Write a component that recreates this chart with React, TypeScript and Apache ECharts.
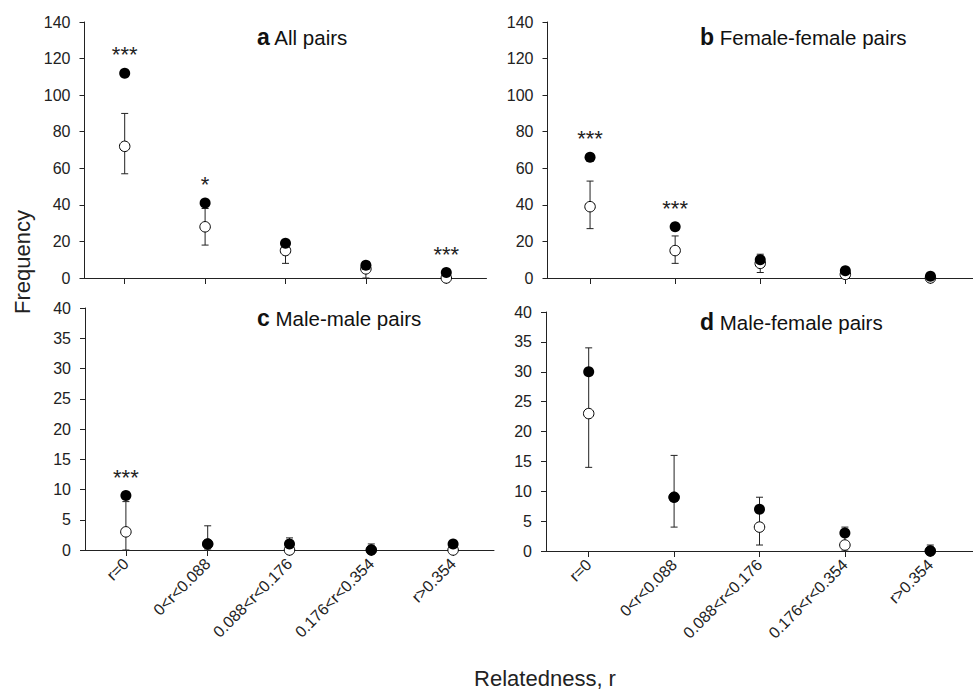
import React, { useEffect, useRef } from "react";
import * as echarts from "echarts";

const FONT = "'Liberation Sans', Arial, Helvetica, sans-serif";

const categories = ["r=0", "0<r<0.088", "0.088<r<0.176", "0.176<r<0.354", "r>0.354"];

// Panel a: All pairs
const aObserved = [112, 41, 19, 7, 3];
const aExpected = [72, 28, 15, 5, 0];
const aLow = [57, 18, 8, 0, 0];
const aHigh = [90, 38, 20, 9, 2];
const aSig = ["***", "*", "", "", "***"];

// Panel b: Female-female pairs
const bObserved = [66, 28, 10, 4, 1];
const bExpected = [39, 15, 8, 2, 0];
const bLow = [27, 8, 3, 0, 0];
const bHigh = [53, 23, 13, 5, 1];
const bSig = ["***", "***", "", "", ""];

// Panel c: Male-male pairs
const cObserved = [9, 1, 1, 0, 1];
const cExpected = [3, 1, 0, 0, 0];
const cLow = [0, 0, 0, 0, 0];
const cHigh = [8, 4, 2, 1, 1];
const cSig = ["***", "", "", "", ""];

// Panel d: Male-female pairs
const dObserved = [30, 9, 7, 3, 0];
const dExpected = [23, 9, 4, 1, 0];
const dLow = [14, 4, 1, 0, 0];
const dHigh = [34, 16, 9, 4, 1];
const dSig = ["", "", "", "", ""];

const topTicks = { min: 0, max: 140, interval: 20 };
const bottomTicks = { min: 0, max: 40, interval: 5 };

const panelTitles = [
  { letter: "a", text: "All pairs" },
  { letter: "b", text: "Female-female pairs" },
  { letter: "c", text: "Male-male pairs" },
  { letter: "d", text: "Male-female pairs" },
];

export default function App() {
  const ref = useRef<HTMLDivElement>(null);

  useEffect(() => {
    if (!ref.current) return;
    const chart = echarts.init(ref.current, undefined, { renderer: "svg" });

    const panels = [
      { grid: { left: 84.5, top: 22, width: 402, height: 256 }, obs: aObserved, exp: aExpected, lo: aLow, hi: aHigh, sig: aSig, ticks: topTicks, showX: false },
      { grid: { left: 547.5, top: 22, width: 426, height: 256 }, obs: bObserved, exp: bExpected, lo: bLow, hi: bHigh, sig: bSig, ticks: topTicks, showX: false },
      { grid: { left: 85, top: 308, width: 409, height: 242 }, obs: cObserved, exp: cExpected, lo: cLow, hi: cHigh, sig: cSig, ticks: bottomTicks, showX: true },
      { grid: { left: 546, top: 312, width: 438, height: 239 }, obs: dObserved, exp: dExpected, lo: dLow, hi: dHigh, sig: dSig, ticks: bottomTicks, showX: true },
    ];

    const axisColor = "#222";
    const grids: any[] = [];
    const xAxes: any[] = [];
    const yAxes: any[] = [];
    const series: any[] = [];

    panels.forEach((p, i) => {
      grids.push({ ...p.grid, containLabel: false });
      xAxes.push({
        type: "category",
        gridIndex: i,
        data: categories,
        boundaryGap: true,
        axisLine: { show: true, lineStyle: { color: axisColor, width: 1 } },
        axisTick: { show: true, alignWithLabel: true, length: 6, lineStyle: { color: axisColor } },
        axisLabel: {
          show: p.showX,
          interval: 0,
          rotate: 45,
          margin: 11,
          fontSize: 16,
          fontFamily: FONT,
          color: "#222",
        },
        splitLine: { show: false },
      });
      yAxes.push({
        type: "value",
        gridIndex: i,
        min: p.ticks.min,
        max: p.ticks.max,
        interval: p.ticks.interval,
        axisLine: { show: true, lineStyle: { color: axisColor, width: 1 } },
        axisTick: { show: true, length: 5, lineStyle: { color: axisColor } },
        axisLabel: { margin: 14, fontSize: 16, fontFamily: FONT, color: "#222" },
        splitLine: { show: false },
      });
      series.push({
        type: "custom",
        xAxisIndex: i,
        yAxisIndex: i,
        z: 2,
        clip: false,
        data: p.lo.map((l, k) => [k, l, p.hi[k]]),
        encode: { x: 0, y: [1, 2] },
        renderItem: (params: any, api: any) => {
          const x = api.value(0);
          const lo = api.coord([x, api.value(1)]);
          const hi = api.coord([x, api.value(2)]);
          const style = { stroke: "#222", lineWidth: 1 };
          const w = 3.5;
          return {
            type: "group",
            children: [
              { type: "line", shape: { x1: lo[0], y1: lo[1], x2: hi[0], y2: hi[1] }, style },
              { type: "line", shape: { x1: lo[0] - w, y1: lo[1], x2: lo[0] + w, y2: lo[1] }, style },
              { type: "line", shape: { x1: hi[0] - w, y1: hi[1], x2: hi[0] + w, y2: hi[1] }, style },
            ],
          };
        },
      });
      series.push({
        type: "scatter",
        xAxisIndex: i,
        yAxisIndex: i,
        z: 3,
        clip: false,
        symbol: "circle",
        symbolSize: 10.5,
        itemStyle: { color: "#fff", borderColor: "#000", borderWidth: 1, opacity: 1 },
        data: p.exp.map((v, k) => [k, v]),
      });
      const sig = p.sig;
      series.push({
        type: "scatter",
        xAxisIndex: i,
        yAxisIndex: i,
        z: 4,
        clip: false,
        symbol: "circle",
        symbolSize: 11,
        itemStyle: { color: "#000", opacity: 1 },
        label: {
          show: true,
          position: "top",
          distance: 2,
          fontSize: 22,
          fontFamily: FONT,
          color: "#222",
          formatter: (prm: any) => sig[prm.dataIndex],
        },
        data: p.obs.map((v, k) => [k, v]),
      });
    });

    const titlePos = [
      { x: 257, y: 37 },
      { x: 700, y: 37 },
      { x: 257, y: 318 },
      { x: 700, y: 322 },
    ];

    const graphics: any[] = panelTitles.map((t, i) => ({
      type: "text",
      x: titlePos[i].x,
      y: titlePos[i].y,
      style: {
        text: `{b|${t.letter}}{n| ${t.text}}`,
        verticalAlign: "middle",
        align: "left",
        fill: "#111",
        rich: {
          b: { fontSize: 23, fontWeight: "bold", fontFamily: FONT, fill: "#111" },
          n: { fontSize: 20.5, fontFamily: FONT, fill: "#111" },
        },
      },
    }));

    graphics.push({
      type: "text",
      x: 22,
      y: 262,
      rotation: Math.PI / 2,
      style: { text: "Frequency", fontSize: 22, fontFamily: FONT, fill: "#222", align: "center", verticalAlign: "middle" },
    });
    graphics.push({
      type: "text",
      x: 545,
      y: 678,
      style: { text: "Relatedness, r", fontSize: 22, fontFamily: FONT, fill: "#222", align: "center", verticalAlign: "middle" },
    });

    chart.setOption({
      animation: false,
      backgroundColor: "#fff",
      grid: grids,
      xAxis: xAxes,
      yAxis: yAxes,
      series,
      graphic: graphics,
    });

    return () => chart.dispose();
  }, []);

  return <div ref={ref} style={{ position: "absolute", left: 0, top: 0, width: 973, height: 690 }} />;
}
